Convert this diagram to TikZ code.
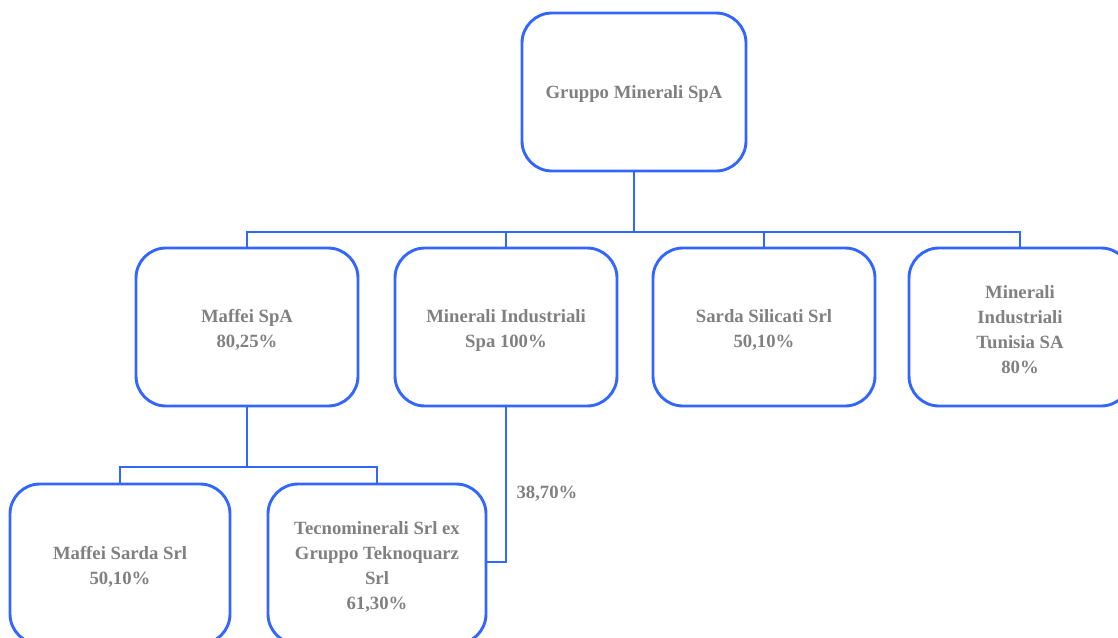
\documentclass[tikz,border=0pt]{standalone}
\usepackage{fontspec}
\setmainfont{Liberation Serif}
\definecolor{lineblue}{RGB}{51,102,255}
\definecolor{txtgray}{RGB}{128,128,128}
\begin{document}
\begin{tikzpicture}[x=1pt,y=-1pt,
  orgbox/.style={draw=lineblue, line width=2.9pt, rounded corners=30pt,
    minimum width=222pt, minimum height=158pt, align=center, text=txtgray,
    font=\fontsize{18.7}{25}\selectfont\bfseries, inner sep=0pt},
  conn/.style={draw=lineblue, line width=2.9pt, line join=miter},
  lbl/.style={text=txtgray, font=\fontsize{18.7}{25}\selectfont\bfseries, inner sep=0pt}]
\useasboundingbox (0,0) rectangle (1118,637);
\node[orgbox, minimum width=224pt] (top) at (634,92) {\rule{0pt}{16pt}Gruppo Minerali SpA};
\node[orgbox] (maffei) at (247,327) {\rule{0pt}{19pt}Maffei SpA\\80,25\%};
\node[orgbox] (minind) at (506,327) {\rule{0pt}{19pt}Minerali Industriali\\Spa 100\%};
\node[orgbox] (sarda) at (764,327) {\rule{0pt}{19pt}Sarda Silicati Srl\\50,10\%};
\node[orgbox] (tunisia) at (1020,327) {\rule{0pt}{19pt}Minerali\\Industriali\\Tunisia SA\\80\%};
\node[orgbox, minimum width=220pt, minimum height=160pt] (sardam) at (120,564) {\rule{0pt}{19pt}Maffei Sarda Srl\\50,10\%};
\node[orgbox, minimum width=218pt, minimum height=160pt] (tecno) at (377,564) {\rule{0pt}{19pt}Tecnominerali Srl ex\\Gruppo Teknoquarz\\Srl\\61,30\%};
\coordinate (bus) at (634,232);
\draw[conn] (top.south) -- (bus);
\draw[conn] (bus) -| (maffei.north);
\draw[conn] (bus) -| (minind.north);
\draw[conn] (bus) -| (sarda.north);
\draw[conn] (bus) -| (tunisia.north);
\coordinate (bus2) at (247,467);
\draw[conn] (maffei.south) -- (bus2);
\draw[conn] (bus2) -| (sardam.north);
\draw[conn] (bus2) -| (tecno.north);
\coordinate (c38) at (506,562);
\draw[conn] (minind.south) -- (c38) -- (c38 -| tecno.east);
\node[lbl] (l38) at (547,494) {38,70\%};
\end{tikzpicture}
\end{document}
